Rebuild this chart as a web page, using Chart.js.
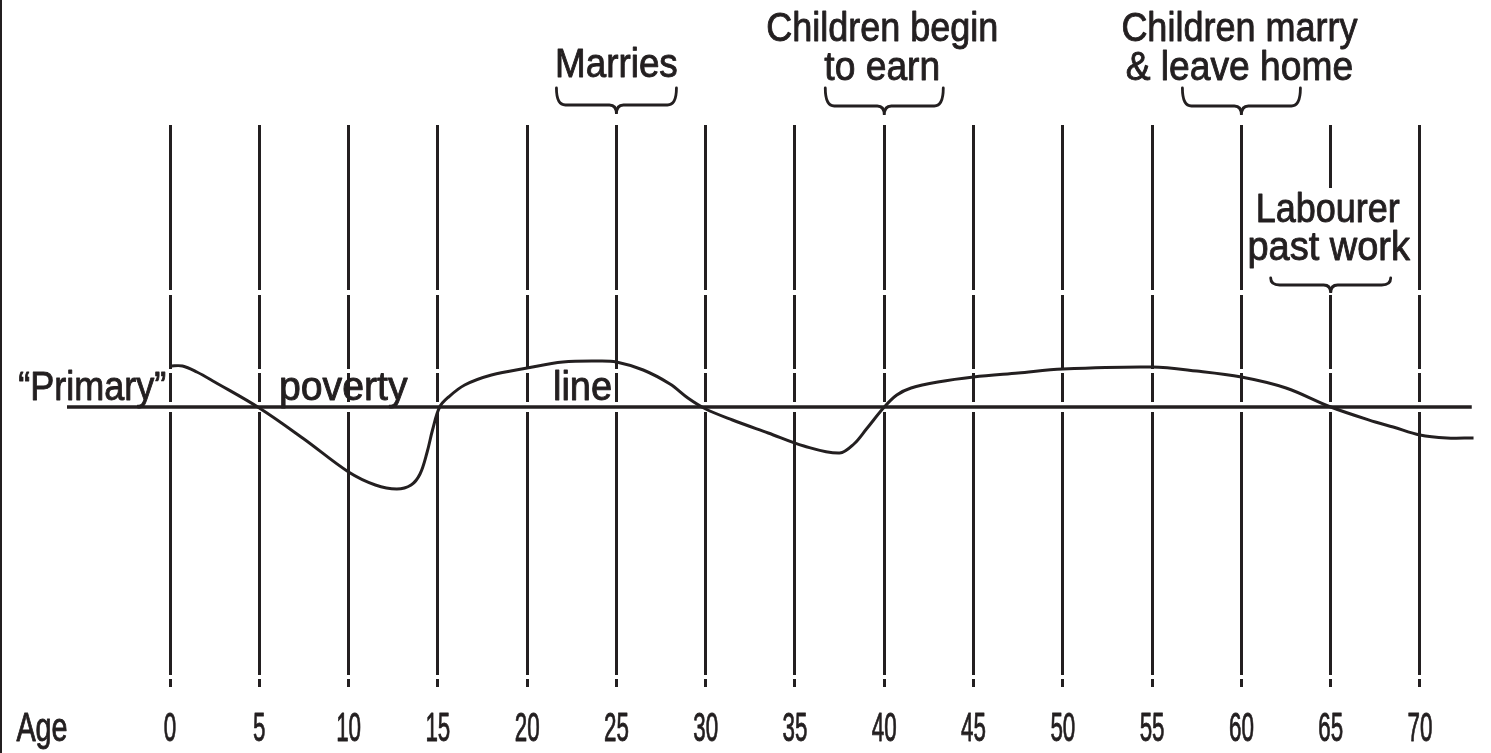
<!DOCTYPE html>
<html>
<head>
<meta charset="utf-8">
<script src="https://cdn.jsdelivr.net/npm/chart.js@4/dist/chart.umd.min.js"></script>
<style>
  html, body { margin: 0; padding: 0; background: #fff; overflow: hidden }
</style>
</head>
<body>
<canvas id="povertyCycle" width="1491" height="753"></canvas>
<script>
// Rowntree's "primary" poverty cycle - income above/below the poverty line by age
const ages = [0, 0.7, 1.5, 2.5, 5, 7.5, 10, 11.5, 12.7, 13.5, 14, 14.4, 14.7, 15.1, 15.6, 16.5, 18, 20, 22, 24,
  25, 26.5, 28, 29, 30, 31.5, 33.5, 35.5, 37.5, 38.3, 39, 40, 40.7, 41.5, 43, 45, 47.5, 50, 55, 57.5,
  60, 62.5, 65, 67.5, 68.5, 70, 71.5, 73]
const income = [41, 41, 35, 25, -1, -32, -65, -78, -82, -78, -67, -45, -23, 0, 10, 22, 32, 39, 45, 46,
  45, 37, 23, 9, -2, -13, -26, -39, -46, -37, -22, 0, 12, 19, 25, 30, 34, 38, 40, 36,
  30, 19, 0, -15, -20, -28, -31, -31]
const ageTicks = [0, 5, 10, 15, 20, 25, 30, 35, 40, 45, 50, 55, 60, 65, 70]
const povertyLineSpan = [-5.77, 72.9]

// life events: [lines of text, age the brace points at]
const lifeEvents = [
  [['Marries'], 25],
  [['Children begin', 'to earn'], 40],
  [['Children marry', '& leave home'], 60],
  [['Labourer', 'past work'], 65]
]

const INK = '#231f20'
const FONT = '40px "Liberation Sans", Arial, sans-serif'

// the print face is a heavier condensed sans, so squeeze and thicken a bit
function squeezedText(ctx, text, x, y, stretch){
  ctx.save()
  ctx.translate(x, y)
  ctx.scale(stretch, 1)
  ctx.textAlign = 'center'
  ctx.textBaseline = 'alphabetic'
  ctx.lineWidth = 0.9
  ctx.lineJoin = 'round'
  ctx.fillText(text, 0, 0)
  ctx.strokeText(text, 0, 0)
  ctx.restore()
}

function brace(ctx, cx, hw, yTop, yMid, yTip){
  ctx.beginPath()
  ctx.moveTo(cx - hw, yTop)
  ctx.quadraticCurveTo(cx - hw, yMid, cx - hw + 9, yMid)
  ctx.lineTo(cx - 7, yMid)
  ctx.quadraticCurveTo(cx, yMid, cx, yTip)
  ctx.quadraticCurveTo(cx, yMid, cx + 7, yMid)
  ctx.lineTo(cx + hw - 9, yMid)
  ctx.quadraticCurveTo(cx + hw, yMid, cx + hw, yTop)
  ctx.stroke()
}

const annotations = {
  id: 'annotations',
  afterDraw(chart){
    const ctx = chart.ctx
    const xs = chart.scales.x
    const ys = chart.scales.y
    const lineY = ys.getPixelForValue(0)

    ctx.save()
    ctx.fillStyle = INK
    ctx.strokeStyle = INK
    ctx.font = FONT
    ctx.lineCap = 'round'

    // frame edge on the left
    ctx.fillRect(0, 0, 2, chart.height)

    // "Primary" poverty line label, spread along the line
    squeezedText(ctx, '\u201cPrimary\u201d', xs.getPixelForValue(-4.35), lineY - 7, 0.9)
    squeezedText(ctx, 'poverty', xs.getPixelForValue(9.7), lineY - 7, 0.98)
    squeezedText(ctx, 'line', xs.getPixelForValue(23.1), lineY - 7, 0.95)

    // life events with braces
    lifeEvents.forEach(ev => {
      const lines = ev[0]
      const cx = xs.getPixelForValue(ev[1])
      ctx.lineWidth = 2.8
      if (ev[1] == 65){
        // this one sits between the grid lines, knock out the line behind it
        ctx.fillStyle = '#fff'
        ctx.fillRect(cx - 85, 188, 170, 102)
        ctx.fillStyle = INK
        brace(ctx, cx, 60, 278, 285, 293)
        squeezedText(ctx, lines[0], cx - 3, 222, 0.9)
        squeezedText(ctx, lines[1], cx - 2, 260, 0.95)
      }
      else if (lines.length == 1){
        brace(ctx, cx, 60, 88, 105, 114)
        squeezedText(ctx, lines[0], cx, 77, 0.92)
      }
      else {
        brace(ctx, cx, 59, 88, 106, 115)
        squeezedText(ctx, lines[0], cx - 2, 41, 0.9)
        squeezedText(ctx, lines[1], cx - 2, 80, 0.93)
      }
    })

    // age tick labels, placed by the x scale
    xs.ticks.forEach(t => {
      squeezedText(ctx, String(t.value), xs.getPixelForValue(t.value), 741, 0.56)
    })
    squeezedText(ctx, 'Age', 42, 741, 0.72)
    ctx.restore()
  }
}

const chart = new Chart('povertyCycle', {
  type: 'line',
  data: {
    datasets: [
      {
        label: 'Income',
        data: ages.map((a, i) => ({x: a, y: income[i]})),
        borderColor: INK,
        borderWidth: 3,
        pointRadius: 0,
        tension: 0.35,
        fill: false,
        order: 0
      },
      {
        label: 'Poverty line',
        data: povertyLineSpan.map(a => ({x: a, y: 0})),
        borderColor: INK,
        borderWidth: 3.5,
        pointRadius: 0,
        fill: false,
        order: 1
      },
      {
        // white band so the vertical lines break around the poverty line
        label: 'gap',
        data: povertyLineSpan.map(a => ({x: a, y: 0})),
        borderColor: '#fff',
        borderWidth: 10,
        pointRadius: 0,
        fill: false,
        order: 2
      }
    ]
  },
  options: {
    responsive: false,
    animation: false,
    devicePixelRatio: 1,
    layout: {padding: {top: 125, bottom: 66, left: 67, right: 13}},
    plugins: {legend: {display: false}, tooltip: {enabled: false}},
    scales: {
      x: {
        type: 'linear',
        min: -5.77,
        max: 73.25,
        afterBuildTicks: scale => { scale.ticks = ageTicks.map(v => ({value: v})) },
        ticks: {display: false},
        grid: {color: INK, lineWidth: 3, drawTicks: false},
        border: {display: false, dash: [165, 5, 74, 4, 302, 4, 20]}
      },
      y: {
        type: 'linear',
        display: false,
        min: -280,
        max: 282
      }
    }
  },
  plugins: [annotations]
})
</script>
</body>
</html>
